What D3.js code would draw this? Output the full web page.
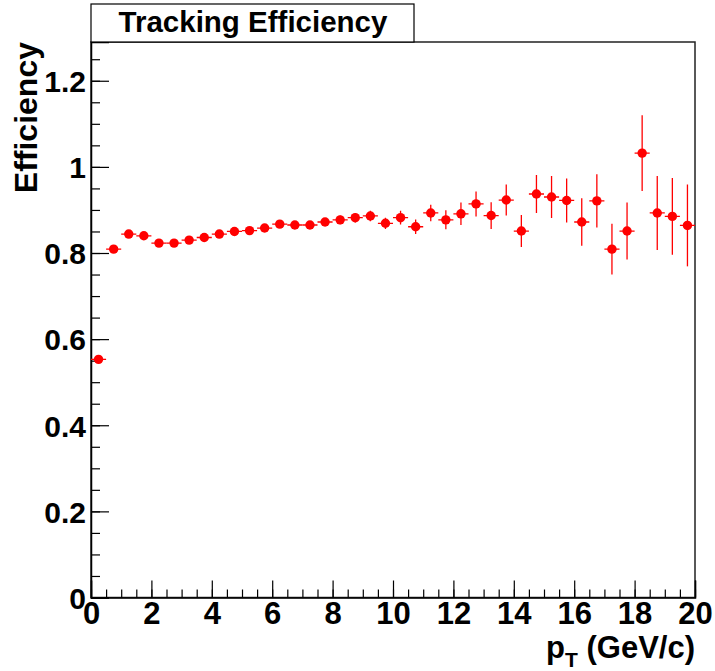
<!DOCTYPE html>
<html>
<head>
<meta charset="utf-8">
<script src="https://cdn.jsdelivr.net/npm/d3@7"></script>
<style>
  html, body { margin: 0; padding: 0; background: #fff; }
  svg { display: block; }
  text { font-family: "Liberation Sans", Arial, sans-serif; font-weight: bold; fill: #000; }
</style>
</head>
<body>
<svg id="chart" width="715" height="671"></svg>
<script>
// ---- data ----
const ptCenters = [0.25, 0.75, 1.25, 1.75, 2.25, 2.75, 3.25, 3.75, 4.25, 4.75,
                   5.25, 5.75, 6.25, 6.75, 7.25, 7.75, 8.25, 8.75, 9.25, 9.75,
                   10.25, 10.75, 11.25, 11.75, 12.25, 12.75, 13.25, 13.75, 14.25, 14.75,
                   15.25, 15.75, 16.25, 16.75, 17.25, 17.75, 18.25, 18.75, 19.25, 19.75];
const binHalfWidth = 0.25;
const efficiency = [0.553, 0.809, 0.844, 0.840, 0.823, 0.823, 0.830, 0.836, 0.844, 0.850,
                    0.852, 0.858, 0.867, 0.865, 0.865, 0.872, 0.877, 0.882, 0.886, 0.869,
                    0.882, 0.861, 0.893, 0.877, 0.891, 0.914, 0.887, 0.923, 0.851, 0.937,
                    0.930, 0.922, 0.872, 0.921, 0.809, 0.851, 1.032, 0.893, 0.885, 0.864];
const effError = [0.004, 0.003, 0.003, 0.004, 0.004, 0.005, 0.005, 0.005, 0.006, 0.006,
                  0.007, 0.007, 0.008, 0.008, 0.009, 0.009, 0.010, 0.011, 0.012, 0.013,
                  0.016, 0.017, 0.019, 0.022, 0.026, 0.029, 0.031, 0.036, 0.037, 0.044,
                  0.049, 0.051, 0.055, 0.062, 0.059, 0.066, 0.088, 0.086, 0.089, 0.095];
const xMajorTicks = [0, 2, 4, 6, 8, 10, 12, 14, 16, 18, 20];
const yMajorTicks = [0, 0.2, 0.4, 0.6, 0.8, 1.0, 1.2];
const xDomain = [0, 20];
const yDomain = [0, 1.29];
const titleText = "Tracking Efficiency";
const yTitle = "Efficiency";

// ---- layout ----
const L = 91, R = 695, T = 42, B = 597.5;
const svg = d3.select("#chart");

const x = d3.scaleLinear().domain(xDomain).range([L, R]);
const y = d3.scaleLinear().domain(yDomain).range([B, T]);

const xMinor = d3.range(0, 20.001, 0.5);
const yMinor = d3.range(0, 1.2901, 0.05);

// frame
svg.append("rect").attr("x", L).attr("y", T).attr("width", R - L).attr("height", B - T)
  .attr("fill", "none").attr("stroke", "#222").attr("stroke-width", 1.5);

// x axis
const gx = svg.append("g").attr("transform", `translate(0,${B})`);
gx.append("g").call(d3.axisBottom(x).tickValues(xMinor).tickSize(-8).tickFormat(""))
  .call(g => g.select(".domain").remove());
gx.append("g").call(d3.axisBottom(x).tickValues(xMajorTicks).tickSize(-17).tickPadding(4).tickFormat(d3.format("d")))
  .call(g => g.select(".domain").attr("stroke", "#000").attr("stroke-width", 1.5))
  .call(g => g.selectAll("text").attr("font-size", 31).style("font-family", "'Liberation Sans', Arial, sans-serif").style("font-weight", "bold").attr("fill", "#000"));
gx.selectAll("line").attr("stroke", "#000").attr("stroke-width", 1.2);

// y axis
const gy = svg.append("g").attr("transform", `translate(${L},0)`);
gy.append("g").call(d3.axisLeft(y).tickValues(yMinor).tickSize(-9).tickFormat(""))
  .call(g => g.select(".domain").remove());
gy.append("g").call(d3.axisLeft(y).tickValues(yMajorTicks).tickSize(-18).tickPadding(5).tickFormat(d => d === 0 ? "0" : d3.format("~g")(d)))
  .call(g => g.select(".domain").attr("stroke", "#000").attr("stroke-width", 1.5))
  .call(g => g.selectAll("text").attr("font-size", 30).attr("dy", "0.36em").style("font-family", "'Liberation Sans', Arial, sans-serif").style("font-weight", "bold").attr("fill", "#000"));
gy.selectAll("line").attr("stroke", "#000").attr("stroke-width", 1.2);

// data
const data = ptCenters.map((p, i) => ({ p, v: efficiency[i], e: effError[i] }));
svg.append("clipPath").attr("id", "clip").append("rect")
  .attr("x", L).attr("y", T).attr("width", R - L).attr("height", B - T);
const gd = svg.append("g").attr("clip-path", "url(#clip)");

gd.selectAll("line.xerr").data(data).join("line").attr("class", "xerr")
  .attr("x1", d => x(d.p - binHalfWidth)).attr("x2", d => x(d.p + binHalfWidth))
  .attr("y1", d => y(d.v)).attr("y2", d => y(d.v))
  .attr("stroke", "#ff0000").attr("stroke-width", 1.3);
gd.selectAll("line.yerr").data(data).join("line").attr("class", "yerr")
  .attr("x1", d => x(d.p)).attr("x2", d => x(d.p))
  .attr("y1", d => y(d.v - d.e)).attr("y2", d => y(d.v + d.e))
  .attr("stroke", "#ff0000").attr("stroke-width", 1.3);
gd.selectAll("circle").data(data).join("circle")
  .attr("cx", d => x(d.p)).attr("cy", d => y(d.v)).attr("r", 4.7)
  .attr("fill", "#ff0000");

// title box
svg.append("rect").attr("x", 91).attr("y", 4).attr("width", 323).attr("height", 38)
  .attr("fill", "#fff").attr("stroke", "#000").attr("stroke-width", 1.2);
svg.append("text").attr("x", 253).attr("y", 32).attr("text-anchor", "middle")
  .attr("font-size", 29.5).text(titleText);

// y title
svg.append("text").attr("transform", `translate(37,${T}) rotate(-90)`)
  .attr("text-anchor", "end").attr("font-size", 32).text(yTitle);

// x title
const xt = svg.append("text").attr("x", R).attr("y", 658).attr("text-anchor", "end").attr("font-size", 31);
xt.append("tspan").text("p");
xt.append("tspan").attr("font-size", 21).attr("dy", 9).text("T");
xt.append("tspan").attr("dy", -9).text(" (GeV/c)");
</script>
</body>
</html>
